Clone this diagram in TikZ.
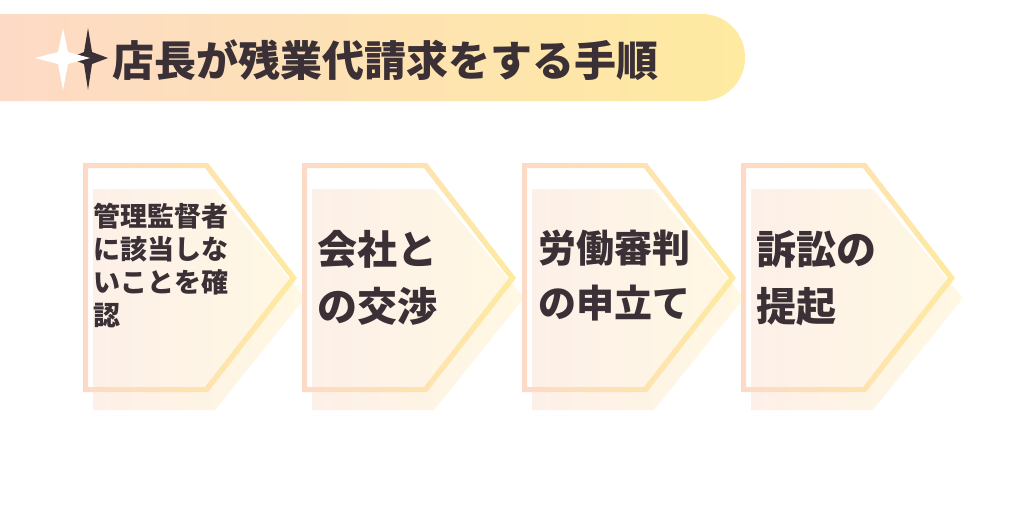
\documentclass[tikz,border=0pt]{standalone}
\usepackage{fontspec}
\setmainfont{Noto Sans CJK JP}
\usetikzlibrary{positioning}
\definecolor{peachcolor}{RGB}{253, 218, 198}
\definecolor{yellowcolor}{RGB}{254, 234, 160}
\definecolor{paleleft}{RGB}{253, 240, 232}
\definecolor{paleright}{RGB}{255, 248, 226}
\definecolor{inkcolor}{RGB}{58, 48, 53}
% one chevron step at horizontal offset #1
\newcommand{\chevstep}[1]{%
    \shade[left color=paleleft, right color=paleright]
        (#1+10,26+163) -- (#1+132,26+163) -- (#1+222,135+163) -- (#1+132,247+163) -- (#1+10,247+163) -- cycle;
    \shade[even odd rule, left color=peachcolor, right color=yellowcolor]
        (#1,163) -- (#1+125,163) -- (#1+214,278) -- (#1+125,392) -- (#1,392) -- cycle
        (#1+5,168) -- (#1+122,168) -- (#1+207,278) -- (#1+122,387) -- (#1+5,387) -- cycle;
}
\begin{document}
\begin{tikzpicture}[x=1pt, y=-1pt,
    steptext/.style={text=inkcolor, anchor=north west, align=left, inner sep=0pt},
    titletext/.style={font=\bfseries\fontsize{42}{46}\selectfont, text=inkcolor, anchor=west, inner sep=0pt}
]
    \useasboundingbox (0,0) rectangle (1024,504);
    % Banner
    \shade[left color=peachcolor, right color=yellowcolor]
        (0,14) [rounded corners=43pt] -- (745,14) -- (745,101) [sharp corners] -- (0,101);
    % Stars
    \fill[inkcolor] (88,28) -- (92,52) -- (108,58) -- (92,64) -- (88,90) -- (84,64) -- (70,58) -- (84,52) -- cycle;
    \fill[white] (63,28) -- (68,52) -- (90,58) -- (68,64) -- (63,90) -- (58,64) -- (35,58) -- (58,52) -- cycle;
    \node[titletext] (title) at (112,60) {店長が残業代請求をする手順};

    % Steps
    \chevstep{83}
    \chevstep{302}
    \chevstep{522}
    \chevstep{741}

    \node[steptext, font=\bfseries\fontsize{27}{33}\selectfont] (check) at (93,203) {管理監督者\\に該当しな\\いことを確\\認};
    \node[steptext, font=\bfseries\fontsize{40}{57}\selectfont] (talk) at (317,230) {会社と\\の交渉};
    \node[steptext, font=\bfseries\fontsize{38}{55}\selectfont] (tribunal) at (538,230) {労働審判\\の申立て};
    \node[steptext, font=\bfseries\fontsize{40}{57}\selectfont] (suit) at (756,230) {訴訟の\\提起};
\end{tikzpicture}
\end{document}
